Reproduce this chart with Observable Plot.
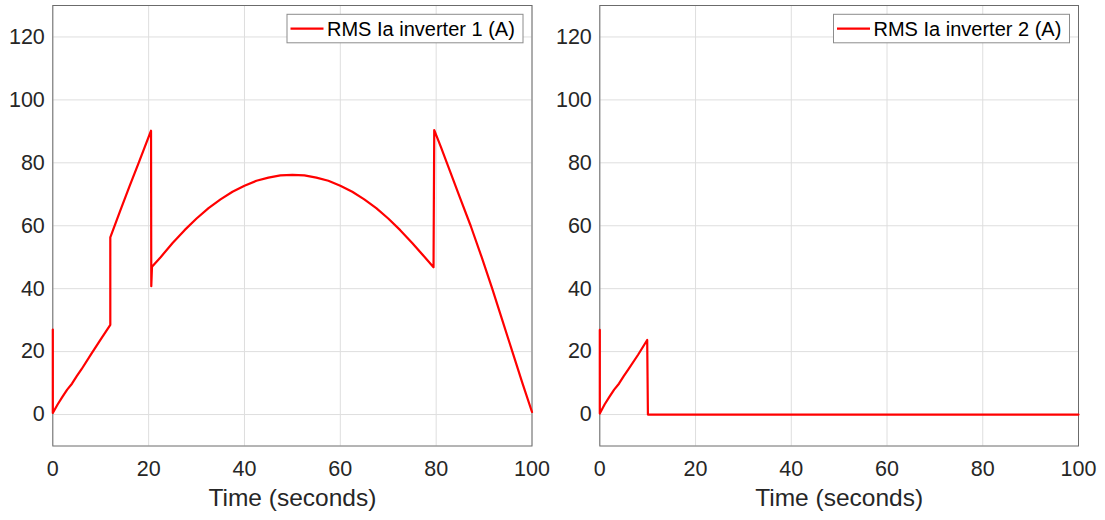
<!DOCTYPE html>
<html>
<head>
<meta charset="utf-8">
<script src="https://cdn.jsdelivr.net/npm/d3@7"></script>
<script src="https://cdn.jsdelivr.net/npm/@observablehq/plot@0.6"></script>
<style>
  html, body { margin: 0; padding: 0; background: #fff; }
  #charts { display: flex; width: 1105px; height: 520px; }
  #charts svg { display: block; }
</style>
</head>
<body>
<div id="charts"></div>
<script>
// RMS phase-a current of inverter 1
const time1 = [0, 0, 1, 2, 3, 4, 5, 6, 8, 10, 12,
  12, 14, 16, 18, 20.5,
  20.55, 20.7,
  22.5, 25, 27.5, 30, 32.5, 35, 37.5, 40, 42.5, 45, 47.5, 50,
  52.5, 55, 57.5, 60, 62.5, 65, 67.5, 70, 72.5, 75, 77.5, 79.45,
  79.6, 81, 83, 85, 87.2, 89.5, 91.7, 93.8, 95.9, 98, 100];
const rms1 = [27, 0.5, 3.2, 5.6, 7.9, 9.8, 12.2, 14.4, 19.2, 23.9, 28.5,
  56.3, 64.5, 72.5, 80.3, 90.2,
  40.8, 47.0,
  50.0, 54.5, 58.6, 62.3, 65.6, 68.4, 70.8, 72.7, 74.3, 75.3, 76.0, 76.2,
  76.0, 75.3, 74.3, 72.7, 70.8, 68.4, 65.6, 62.3, 58.6, 54.5, 50.2, 46.8,
  90.4, 85.0, 76.9, 68.8, 60, 50.0, 40, 30, 20, 10, 0.8];

// RMS phase-a current of inverter 2
const time2 = [0, 0, 1, 2, 3, 4, 5, 6, 8, 9.9, 10.05, 100];
const rms2 = [26.9, 0.3, 3.2, 5.6, 7.9, 9.8, 12.2, 14.4, 19.0, 23.7, 0, 0];

const xTicks = [0, 20, 40, 60, 80, 100];
const yTicks = [0, 20, 40, 60, 80, 100, 120];
const seriesNames = ["RMS Ia inverter 1 (A)", "RMS Ia inverter 2 (A)"];
const xLabel = "Time (seconds)";

function panel(times, values, name, width, marginLeft, marginRight) {
  const data = times.map((t, i) => ({t, v: values[i]}));
  const svg = Plot.plot({
    width,
    height: 520,
    marginTop: 5,
    marginBottom: 74.5,
    marginLeft,
    marginRight,
    style: {fontFamily: "'Liberation Sans', Arial, sans-serif", fontSize: "21.5px", color: "#262626", background: "#fff"},
    x: {domain: [0, 100], ticks: xTicks, tickSize: 0, tickPadding: 15, label: null},
    y: {domain: [-10, 130], ticks: yTicks, tickSize: 0, tickPadding: 8, label: null},
    marks: [
      Plot.ruleX(xTicks, {stroke: "#dedede", strokeWidth: 1}),
      Plot.ruleY(yTicks, {stroke: "#dedede", strokeWidth: 1}),
      Plot.frame({stroke: "#6b6b6b", strokeWidth: 1}),
      Plot.line(data, {x: "t", y: "v", stroke: "#ff0000", strokeWidth: 2.2, curve: "linear"}),
      Plot.text([xLabel], {frameAnchor: "bottom", dy: 52.5, fontSize: 24.5, fill: "#262626", lineAnchor: "middle"})
    ]
  });

  // legend box in the upper-right corner of the axes
  const frameRight = width - marginRight;
  const boxW = 236, boxH = 28.5;
  const bx = frameRight - 8.5 - boxW, by = 14.3;
  const g = d3.select(svg).append("g");
  g.append("rect").attr("x", bx).attr("y", by).attr("width", boxW).attr("height", boxH)
    .attr("fill", "#fff").attr("stroke", "#8c8c8c").attr("stroke-width", 1);
  g.append("line").attr("x1", bx + 3.5).attr("x2", bx + 36.5)
    .attr("y1", by + boxH / 2).attr("y2", by + boxH / 2)
    .attr("stroke", "#ff0000").attr("stroke-width", 2.2);
  g.append("text").attr("x", bx + 40).attr("y", by + boxH / 2).attr("dy", "0.36em")
    .attr("text-anchor", "start").attr("font-size", 20).attr("fill", "#000").text(name);
  return svg;
}

const root = document.getElementById("charts");
root.appendChild(panel(time1, rms1, seriesNames[0], 552, 52.3, 20.5));
root.appendChild(panel(time2, rms2, seriesNames[1], 553, 47.3, 27));
</script>
</body>
</html>
